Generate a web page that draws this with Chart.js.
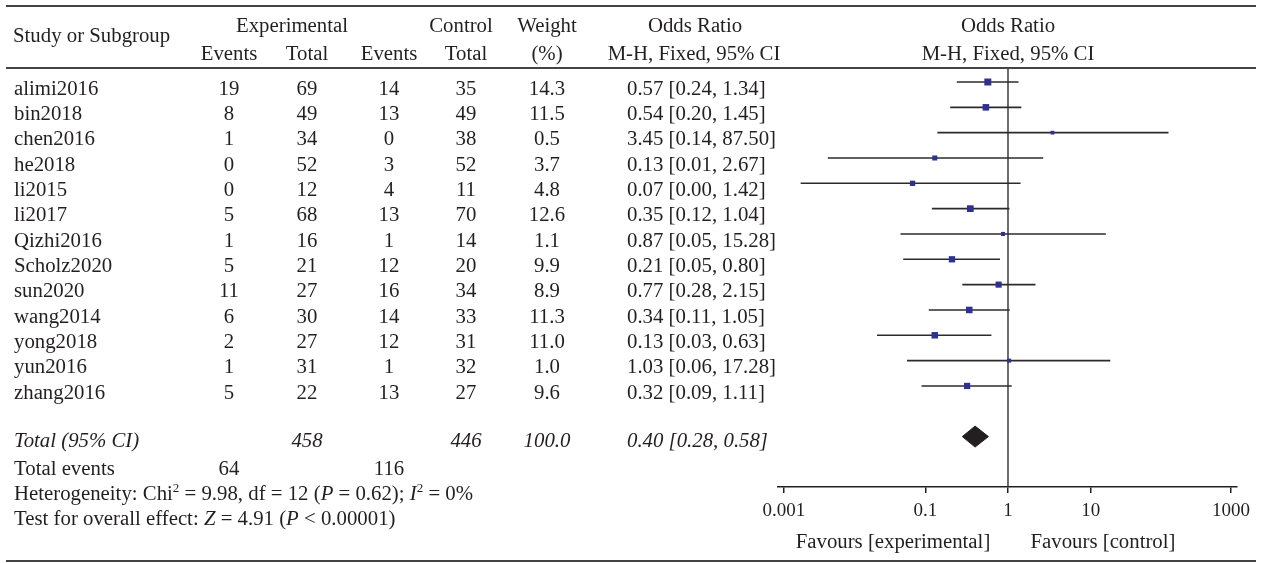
<!DOCTYPE html>
<html lang="en">
<head>
  <meta charset="UTF-8">
  <title>Forest plot</title>
  <script src="https://cdn.jsdelivr.net/npm/chart.js"></script>
  <style>
    body {
      margin: 0;
      background: #fff;
      font-family: "Liberation Serif", "Times New Roman", serif;
      color: #231f20;
    }
    #wrap {
      position: relative;
      width: 1261px;
      height: 563px;
      overflow: hidden;
    }
    #plot {
      position: absolute;
      left: 0;
      top: 0;
    }
    .t {
      position: absolute;
      font-size: 20.8px;
      line-height: 20.8px;
      white-space: nowrap;
    }
    .c { transform: translateX(-50%); }
    .i { font-style: italic; }
    .rule {
      position: absolute;
      left: 6px;
      width: 1250px;
      background: #444;
    }
    sup {
      font-size: 13px;
      line-height: 0;
      vertical-align: 8px;
    }
  </style>
</head>
<body>
  <div id="wrap">
    <canvas id="plot" width="1261" height="563"></canvas>
    <div class="rule" style="top:5px;height:2px"></div>
    <div class="rule" style="top:67px;height:2px"></div>
    <div class="rule" style="top:560px;height:2px"></div>
  </div>

  <script>
    const studies = ['alimi2016', 'bin2018', 'chen2016', 'he2018', 'li2015', 'li2017', 'Qizhi2016',
      'Scholz2020', 'sun2020', 'wang2014', 'yong2018', 'yun2016', 'zhang2016'];
    const expEvents = [19, 8, 1, 0, 0, 5, 1, 5, 11, 6, 2, 1, 5];
    const expTotal = [69, 49, 34, 52, 12, 68, 16, 21, 27, 30, 27, 31, 22];
    const ctrlEvents = [14, 13, 0, 3, 4, 13, 1, 12, 16, 14, 12, 1, 13];
    const ctrlTotal = [35, 49, 38, 52, 11, 70, 14, 20, 34, 33, 31, 32, 27];
    const weights = [14.3, 11.5, 0.5, 3.7, 4.8, 12.6, 1.1, 9.9, 8.9, 11.3, 11.0, 1.0, 9.6];
    const oddsRatio = [0.57, 0.54, 3.45, 0.13, 0.07, 0.35, 0.87, 0.21, 0.77, 0.34, 0.13, 1.03, 0.32];
    const ciLower = [0.24, 0.20, 0.14, 0.0066, 0.0031, 0.12, 0.05, 0.054, 0.28, 0.11, 0.026, 0.06, 0.09];
    const ciUpper = [1.34, 1.45, 87.50, 2.67, 1.42, 1.04, 15.28, 0.80, 2.15, 1.05, 0.63, 17.28, 1.11];

    const totalExp = 458, totalCtrl = 446, totalWeight = 100.0;
    const totalEventsExp = 64, totalEventsCtrl = 116;
    const pooled = [0.40, 0.28, 0.58];   // OR, lower, upper
    const tickLabels = ['0.001', '0.1', '1', '10', '1000'];

    const fmtCI = (o, l, u) => o.toFixed(2) + ' [' + l.toFixed(2) + ', ' + u.toFixed(2) + ']';

    // ---- table text ----
    const wrap = document.getElementById('wrap');
    const fontPx = 20.8;
    const rowStep = 25.33;
    const textRow = i => 95 + rowStep * i;   // baseline of a table row

    function put(html, x, baseline, cls) {
      const d = document.createElement('div');
      d.className = 't ' + (cls || '');
      d.innerHTML = html;
      d.style.left = x + 'px';
      d.style.top = (baseline - 0.8375 * fontPx) + 'px';
      wrap.appendChild(d);
    }

    const col = { name: 14, ee: 229, et: 307, ce: 389, ct: 466, w: 547, or: 627 };

    put('Study or Subgroup', 13, 42);
    put('Experimental', 292, 32, 'c');
    put('Control', 461, 32, 'c');
    put('Weight', col.w, 32, 'c');
    put('Odds Ratio', 695, 32, 'c');
    put('Odds Ratio', 1008, 32, 'c');
    put('Events', col.ee, 60, 'c');
    put('Total', col.et, 60, 'c');
    put('Events', col.ce, 60, 'c');
    put('Total', col.ct, 60, 'c');
    put('(%)', col.w, 60, 'c');
    put('M-H, Fixed, 95% CI', 694, 60, 'c');
    put('M-H, Fixed, 95% CI', 1008, 60, 'c');

    studies.forEach((s, i) => {
      const b = textRow(i);
      put(s, col.name, b);
      put(expEvents[i], col.ee, b, 'c');
      put(expTotal[i], col.et, b, 'c');
      put(ctrlEvents[i], col.ce, b, 'c');
      put(ctrlTotal[i], col.ct, b, 'c');
      put(weights[i].toFixed(1), col.w, b, 'c');
      put(fmtCI(oddsRatio[i], ciLower[i], ciUpper[i]), col.or, b);
    });

    const totBase = 447;
    put('Total (95% CI)', col.name, totBase, 'i');
    put(totalExp, col.et, totBase, 'c i');
    put(totalCtrl, col.ct, totBase, 'c i');
    put(totalWeight.toFixed(1), col.w, totBase, 'c i');
    put(fmtCI(pooled[0], pooled[1], pooled[2]), col.or, totBase, 'i');
    put('Total events', col.name, textRow(15));
    put(totalEventsExp, col.ee, textRow(15), 'c');
    put(totalEventsCtrl, col.ce, textRow(15), 'c');
    put('Heterogeneity: Chi<sup>2</sup> = 9.98, df = 12 (<i>P</i> = 0.62); <i>I</i><sup>2</sup> = 0%', col.name, textRow(16));
    put('Test for overall effect: <i>Z</i> = 4.91 (<i>P</i> &lt; 0.00001)', col.name, textRow(17));

    put('Favours [experimental]', 893, 548, 'c');
    put('Favours [control]', 1103, 548, 'c');

    // ---- forest panel ----
    const yMin = -0.553, yMax = 15.99;
    const totalRow = 14;
    const diamondHalf = 0.415;
    const ink = '#231f20';
    const squareSide = w => 3 + 1.05 * Math.sqrt(w);

    new Chart(document.getElementById('plot'), {
      type: 'scatter',
      data: {
        datasets: [
          {
            type: 'scatter',
            data: oddsRatio.map((v, i) => ({ x: v, y: i })),
            pointStyle: 'rect',
            pointRadius: ctx => squareSide(weights[ctx.dataIndex]) / Math.SQRT2,
            pointBorderWidth: 0,
            backgroundColor: '#2f3192'
          },
          {
            type: 'line',
            data: [
              { x: pooled[1], y: totalRow },
              { x: pooled[0], y: totalRow - diamondHalf },
              { x: pooled[2], y: totalRow },
              { x: pooled[0], y: totalRow + diamondHalf },
              { x: pooled[1], y: totalRow }
            ],
            borderColor: ink,
            borderWidth: 1,
            backgroundColor: ink,
            fill: 'shape',
            pointRadius: 0,
            tension: 0
          },
          {
            type: 'bar',
            indexAxis: 'y',
            data: ciLower.map((l, i) => ({ y: i, x: [l, ciUpper[i]] })),
            backgroundColor: '#2b2b2b',
            barThickness: 1.6,
            inflateAmount: 0,
            borderWidth: 0
          },
          {
            type: 'line',
            data: [{ x: 1, y: yMin }, { x: 1, y: yMax }],
            borderColor: ink,
            borderWidth: 1.3,
            pointRadius: 0
          }
        ]
      },
      options: {
        responsive: false,
        animation: false,
        layout: { padding: { left: 778, right: 24, top: 68, bottom: 0 } },
        plugins: {
          legend: { display: false },
          tooltip: { enabled: false }
        },
        scales: {
          x: {
            type: 'logarithmic',
            offset: false,
            min: Math.pow(10, -2.783),
            max: Math.pow(10, 2.771),
            afterBuildTicks: s => {
              const k = Math.pow(10, 0.072);
              s.ticks = [s.min * k, 0.1, 1, 10, s.max / k].map(v => ({ value: v }));
            },
            afterFit: s => { s.height = 76; },
            ticks: {
              autoSkip: false,
              maxRotation: 0,
              padding: 7,
              color: ink,
              font: { family: 'Liberation Serif', size: 19 },
              callback: (v, i) => tickLabels[i]
            },
            grid: { drawOnChartArea: false, offset: false, tickLength: 6, color: ink, lineWidth: 1.5 },
            border: { color: ink, width: 1.5 }
          },
          y: {
            type: 'linear',
            display: false,
            offset: false,
            grid: { offset: false },
            reverse: true,
            min: yMin,
            max: yMax
          }
        }
      }
    });
  </script>
</body>
</html>
